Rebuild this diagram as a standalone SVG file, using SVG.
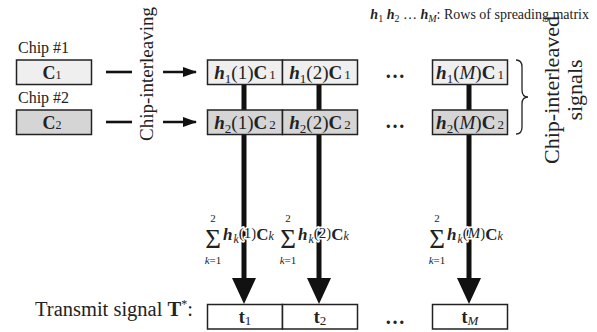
<svg xmlns="http://www.w3.org/2000/svg" width="597" height="332" viewBox="0 0 597 332">
<style>
text{font-family:"Liberation Serif","Times New Roman",serif;fill:#222}
.bi{font-weight:bold;font-style:italic}
.b{font-weight:bold}
.i{font-style:italic}
.r1{fill:#efefef;stroke:#222;stroke-width:1.5}
.r2{fill:#d5d5d5;stroke:#222;stroke-width:1.5}
.r0{fill:#fff;stroke:#222;stroke-width:1.5}
.dash{stroke:#111;stroke-width:2.6;fill:none}
.thick{stroke:#111;stroke-width:5;fill:none}
.bt{font-size:19px}
.sig{font-size:27px}
.lim{font-size:11px}
.sx{font-size:17px;stroke:#fff;stroke-width:3;paint-order:stroke;stroke-linejoin:round}
</style>
<defs>
<marker id="ah" markerWidth="14" markerHeight="10" refX="13" refY="5" orient="auto" markerUnits="userSpaceOnUse"><path d="M0,0 L14,5 L0,10 Z" fill="#111"/></marker>
</defs>

<g id="connectors">
<line class="dash" x1="106" y1="72" x2="132" y2="72"/>
<line class="dash" x1="163" y1="72" x2="196" y2="72" marker-end="url(#ah)"/>
<line class="dash" x1="106" y1="122" x2="132" y2="122"/>
<line class="dash" x1="163" y1="122" x2="196" y2="122" marker-end="url(#ah)"/>
<line class="thick" x1="244" y1="84" x2="244" y2="280"/>
<path d="M232,278 L256,278 L244,304 Z" fill="#111"/>
<line class="thick" x1="319" y1="84" x2="319" y2="280"/>
<path d="M307,278 L331,278 L319,304 Z" fill="#111"/>
<line class="thick" x1="469" y1="84" x2="469" y2="280"/>
<path d="M457,278 L481,278 L469,304 Z" fill="#111"/>
</g>

<g id="legend">
<text x="589" y="19" text-anchor="end" font-size="14"><tspan class="bi">h</tspan><tspan font-size="10" dy="3">1</tspan><tspan dy="-3"> </tspan><tspan class="bi">h</tspan><tspan font-size="10" dy="3">2</tspan><tspan dy="-3"> … </tspan><tspan class="bi">h</tspan><tspan class="i" font-size="10" dy="3">M</tspan><tspan dy="-3">: Rows of spreading matrix</tspan></text>
</g>

<g id="chip1">
<text x="18" y="53" font-size="16">Chip #1</text>
<rect class="r1" x="16.5" y="60" width="75" height="24.5"/>
<text x="52" y="79" text-anchor="middle" font-size="18"><tspan class="b">C</tspan><tspan font-size="12">1</tspan></text>
</g>
<g id="chip2">
<text x="18" y="103" font-size="16">Chip #2</text>
<rect class="r2" x="16.5" y="110" width="75" height="24.5"/>
<text x="52" y="129" text-anchor="middle" font-size="18"><tspan class="b">C</tspan><tspan font-size="12">2</tspan></text>
</g>

<g id="label-interleaving">
<text transform="translate(153,74) rotate(-90)" text-anchor="middle" font-size="19">Chip-interleaving</text>
</g>

<g id="h1c1-1">
<rect class="r1" x="207.5" y="60" width="75" height="24.5"/>
<text class="bt" x="245" y="79" text-anchor="middle"><tspan class="bi">h</tspan><tspan font-size="13" dy="4">1</tspan><tspan dy="-4">(1)</tspan><tspan class="b">C</tspan><tspan font-size="13" dx="2">1</tspan></text>
</g>
<g id="h1c1-2">
<rect class="r1" x="282.5" y="60" width="75" height="24.5"/>
<text class="bt" x="320" y="79" text-anchor="middle"><tspan class="bi">h</tspan><tspan font-size="13" dy="4">1</tspan><tspan dy="-4">(2)</tspan><tspan class="b">C</tspan><tspan font-size="13" dx="2">1</tspan></text>
</g>
<g id="h1c1-M">
<rect class="r1" x="432.5" y="60" width="75" height="24.5"/>
<text class="bt" x="470" y="79" text-anchor="middle"><tspan class="bi">h</tspan><tspan font-size="13" dy="4">1</tspan><tspan dy="-4">(</tspan><tspan class="i">M</tspan><tspan>)</tspan><tspan class="b">C</tspan><tspan font-size="13" dx="2">1</tspan></text>
</g>
<g id="h2c2-1">
<rect class="r2" x="207.5" y="110" width="75" height="24.5"/>
<text class="bt" x="245" y="129" text-anchor="middle"><tspan class="bi">h</tspan><tspan font-size="13" dy="4">2</tspan><tspan dy="-4">(1)</tspan><tspan class="b">C</tspan><tspan font-size="13" dx="2">2</tspan></text>
</g>
<g id="h2c2-2">
<rect class="r2" x="282.5" y="110" width="75" height="24.5"/>
<text class="bt" x="320" y="129" text-anchor="middle"><tspan class="bi">h</tspan><tspan font-size="13" dy="4">2</tspan><tspan dy="-4">(2)</tspan><tspan class="b">C</tspan><tspan font-size="13" dx="2">2</tspan></text>
</g>
<g id="h2c2-M">
<rect class="r2" x="432.5" y="110" width="75" height="24.5"/>
<text class="bt" x="470" y="129" text-anchor="middle"><tspan class="bi">h</tspan><tspan font-size="13" dy="4">2</tspan><tspan dy="-4">(</tspan><tspan class="i">M</tspan><tspan>)</tspan><tspan class="b">C</tspan><tspan font-size="13" dx="2">2</tspan></text>
</g>

<g id="dots">
<text x="395" y="78" text-anchor="middle" font-size="20" class="b">…</text>
<text x="395" y="128" text-anchor="middle" font-size="20" class="b">…</text>
<text x="395" y="324" text-anchor="middle" font-size="20" class="b">…</text>
</g>

<g id="brace">
<path d="M516,60 Q522,60 522,67 L522,90 Q522,97 528,97 Q522,97 522,104 L522,127 Q522,134 516,134" fill="none" stroke="#222" stroke-width="1.3"/>
<text transform="translate(559,90) rotate(-90)" text-anchor="middle" font-size="22">Chip-interleaved</text>
<text transform="translate(582,90) rotate(-90)" text-anchor="middle" font-size="22">signals</text>
</g>

<g id="sum-1">
<text class="sig" x="213" y="248" text-anchor="middle">Σ</text>
<text class="lim" x="213" y="222" text-anchor="middle">2</text>
<text class="lim" x="213" y="264" text-anchor="middle"><tspan class="i">k</tspan>=1</text>
<text class="sx" x="223" y="240"><tspan class="bi">h</tspan><tspan class="i" font-size="12" dx="1" dy="3">k</tspan><tspan font-size="15" dy="-5">(1)</tspan><tspan class="b" dy="2">C</tspan><tspan class="i" font-size="12">k</tspan></text>
</g>
<g id="sum-2">
<text class="sig" x="288" y="248" text-anchor="middle">Σ</text>
<text class="lim" x="288" y="222" text-anchor="middle">2</text>
<text class="lim" x="288" y="264" text-anchor="middle"><tspan class="i">k</tspan>=1</text>
<text class="sx" x="298" y="240"><tspan class="bi">h</tspan><tspan class="i" font-size="12" dx="1" dy="3">k</tspan><tspan font-size="15" dy="-5">(2)</tspan><tspan class="b" dy="2">C</tspan><tspan class="i" font-size="12">k</tspan></text>
</g>
<g id="sum-M">
<text class="sig" x="437" y="248" text-anchor="middle">Σ</text>
<text class="lim" x="437" y="222" text-anchor="middle">2</text>
<text class="lim" x="437" y="264" text-anchor="middle"><tspan class="i">k</tspan>=1</text>
<text class="sx" x="447" y="240"><tspan class="bi">h</tspan><tspan class="i" font-size="12" dx="1" dy="3">k</tspan><tspan font-size="15" dy="-5">(</tspan><tspan class="i" font-size="15">M</tspan><tspan font-size="15">)</tspan><tspan class="b" dy="2">C</tspan><tspan class="i" font-size="12">k</tspan></text>
</g>

<g id="transmit">
<text x="35" y="316" font-size="20.5">Transmit signal <tspan class="b">T</tspan><tspan font-size="12" dy="-8">*</tspan><tspan dy="8">:</tspan></text>
</g>
<g id="t1">
<rect class="r0" x="207.5" y="304.5" width="75" height="24.5"/>
<text x="245" y="323" text-anchor="middle" font-size="18"><tspan class="b">t</tspan><tspan font-size="13" dy="2">1</tspan></text>
</g>
<g id="t2">
<rect class="r0" x="282.5" y="304.5" width="75" height="24.5"/>
<text x="320" y="323" text-anchor="middle" font-size="18"><tspan class="b">t</tspan><tspan font-size="13" dy="2">2</tspan></text>
</g>
<g id="tM">
<rect class="r0" x="432.5" y="304.5" width="75" height="24.5"/>
<text x="470" y="323" text-anchor="middle" font-size="18"><tspan class="b">t</tspan><tspan class="i" font-size="13" dy="2">M</tspan></text>
</g>
</svg>
